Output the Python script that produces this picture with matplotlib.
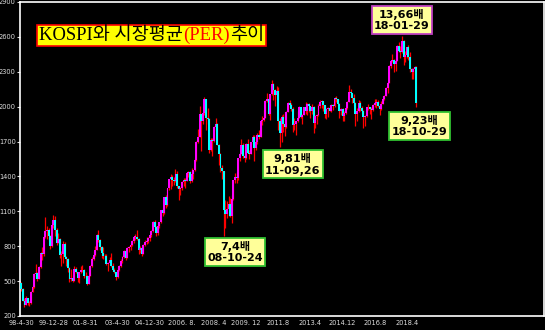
import numpy as np
import matplotlib
matplotlib.use("Agg")
import matplotlib.pyplot as plt
from matplotlib.offsetbox import TextArea, HPacker, AnnotationBbox

# monthly KOSPI candles, 1998-04 .. 2018-10
opens = [
    481, 432, 333, 298, 353, 311, 310, 408, 450,
    562, 573, 521, 618, 745, 735, 883, 932, 943, 888, 800, 980,
    1028, 943, 829, 861, 725, 731, 822, 705, 689, 613, 514, 526,
    504, 601, 577, 523, 577, 595, 595, 541, 545, 479, 541, 631,
    693, 725, 771, 894, 852, 796, 743, 716, 719, 646, 655, 681,
    627, 592, 576, 536, 599, 633, 670, 711, 759, 697, 784, 796,
    811, 848, 880, 883, 862, 770, 785, 735, 810, 835, 845, 870,
    896, 932, 1011, 965, 911, 970, 1008, 1112, 1083, 1221, 1158, 1297,
    1379, 1399, 1371, 1359, 1419, 1317, 1295, 1297, 1352, 1371, 1364, 1432,
    1434, 1360, 1417, 1452, 1542, 1700, 1743, 1933, 1873, 1946, 2064, 1906,
    1897, 1624, 1711, 1704, 1825, 1852, 1674, 1594, 1474, 1448, 1113, 1076,
    1124, 1162, 1063, 1206, 1369, 1395, 1390, 1557, 1591, 1673, 1580, 1555,
    1682, 1602, 1594, 1692, 1741, 1641, 1698, 1759, 1742, 1873, 1882, 1904,
    2051, 2069, 1939, 2106, 2192, 2142, 2100, 2133, 1880, 1770, 1909, 1847,
    1826, 1955, 2030, 2014, 1982, 1843, 1854, 1881, 1905, 1996, 1912, 1932,
    1997, 1961, 2027, 2005, 1963, 2001, 1863, 1920, 1926, 2005, 2039, 2045,
    2011, 1941, 1980, 1986, 1962, 2017, 2002, 2076, 2068, 2020, 1964, 1981,
    1916, 1949, 1986, 2041, 2127, 2115, 2074, 2030, 1941, 1963, 2029, 1991,
    1961, 1912, 1916, 1996, 1994, 1983, 1970, 2016, 2034, 2043, 2008, 1983,
    2026, 2067, 2091, 2160, 2205, 2347, 2392, 2402, 2363, 2394, 2523, 2476,
    2467, 2566, 2427, 2445, 2515, 2423, 2326, 2295, 2322, 2343,
]
highs = [
    490, 440, 355, 375, 357, 326, 411, 470, 570,
    650, 580, 626, 750, 790, 885, 1052, 975, 960, 895, 985, 1066,
    1059, 960, 915, 870, 760, 845, 840, 715, 695, 620, 600, 555,
    630, 624, 580, 580, 632, 635, 605, 580, 555, 555, 640, 705,
    760, 800, 902, 943, 860, 805, 790, 735, 730, 665, 710, 740,
    655, 610, 580, 620, 640, 690, 720, 765, 780, 790, 800, 825,
    855, 890, 905, 939, 870, 800, 790, 820, 850, 880, 880, 900,
    940, 1015, 1022, 975, 975, 1012, 1113, 1130, 1225, 1240, 1300, 1380,
    1422, 1410, 1395, 1465, 1445, 1320, 1310, 1360, 1385, 1390, 1440, 1450,
    1445, 1470, 1455, 1555, 1705, 1810, 2004, 1940, 1950, 2085, 2070, 1990,
    1900, 1730, 1730, 1830, 1900, 1860, 1680, 1605, 1500, 1450, 1200, 1190,
    1230, 1215, 1240, 1370, 1430, 1440, 1560, 1600, 1723, 1690, 1600, 1690,
    1723, 1630, 1700, 1760, 1760, 1720, 1770, 1800, 1880, 1920, 1970, 2055,
    2115, 2085, 2110, 2231, 2200, 2150, 2180, 2165, 1900, 1925, 1940, 1950,
    1960, 2040, 2057, 2030, 1995, 1900, 1880, 1960, 2010, 2000, 1940, 2000,
    2040, 2030, 2030, 2010, 2020, 2010, 1925, 1940, 2020, 2060, 2060, 2050,
    2015, 1985, 1995, 2015, 2020, 2025, 2085, 2090, 2070, 2030, 1990, 1990,
    1960, 1990, 2050, 2190, 2150, 2120, 2110, 2040, 1990, 2060, 2050, 2010,
    1970, 1930, 2000, 2025, 2000, 2000, 2025, 2070, 2070, 2060, 2010, 2050,
    2090, 2100, 2170, 2215, 2360, 2400, 2450, 2410, 2420, 2530, 2560, 2520,
    2607, 2570, 2480, 2500, 2530, 2470, 2330, 2330, 2350, 2350,
]
lows = [
    417, 327, 280, 296, 294, 290, 307, 403, 440,
    535, 497, 515, 615, 680, 720, 870, 860, 845, 780, 795, 960,
    885, 810, 825, 700, 630, 655, 700, 630, 580, 496, 500, 495,
    500, 570, 491, 485, 570, 575, 530, 535, 463, 475, 540, 620,
    680, 715, 765, 840, 770, 700, 690, 680, 640, 585, 650, 620,
    590, 570, 512, 530, 590, 625, 655, 700, 680, 695, 750, 765,
    800, 830, 855, 850, 730, 740, 719, 730, 800, 820, 825, 845,
    880, 925, 960, 890, 900, 960, 1000, 1060, 1080, 1130, 1150, 1280,
    1290, 1320, 1330, 1355, 1300, 1200, 1240, 1280, 1320, 1300, 1360, 1395,
    1345, 1355, 1380, 1445, 1535, 1690, 1740, 1620, 1850, 1930, 1800, 1850,
    1600, 1620, 1575, 1700, 1790, 1670, 1500, 1440, 1380, 892, 960, 1040,
    1060, 1055, 1000, 1200, 1340, 1340, 1370, 1530, 1590, 1560, 1520, 1550,
    1600, 1550, 1590, 1680, 1530, 1630, 1680, 1720, 1740, 1840, 1880, 1900,
    2040, 1930, 1882, 2100, 2060, 2010, 2090, 1800, 1652, 1700, 1780, 1750,
    1820, 1950, 1990, 1960, 1780, 1800, 1760, 1870, 1900, 1900, 1850, 1925,
    1940, 1930, 1950, 1900, 1940, 1770, 1820, 1850, 1920, 1990, 1990, 1960,
    1900, 1890, 1910, 1960, 1950, 1970, 1995, 2040, 2010, 1900, 1930, 1880,
    1880, 1940, 1980, 2040, 2080, 2030, 2010, 1830, 1880, 1950, 1960, 1940,
    1820, 1830, 1910, 1970, 1940, 1890, 1960, 2000, 1990, 2000, 1930, 1970,
    2020, 2060, 2090, 2120, 2200, 2330, 2380, 2300, 2310, 2390, 2470, 2420,
    2460, 2360, 2380, 2420, 2400, 2300, 2240, 2240, 2270, 1996,
]
closes = [
    432, 333, 298, 353, 311, 310, 408, 450, 562,
    573, 521, 618, 745, 735, 883, 932, 943, 888, 800, 980, 1028,
    943, 829, 861, 725, 731, 822, 705, 689, 613, 514, 526, 504,
    601, 577, 523, 577, 595, 595, 541, 545, 479, 541, 631, 693,
    725, 771, 894, 852, 796, 743, 716, 719, 646, 655, 681, 627,
    592, 576, 536, 599, 633, 670, 711, 759, 697, 784, 796, 811,
    848, 880, 883, 862, 770, 785, 735, 810, 835, 845, 870, 896,
    932, 1011, 965, 911, 970, 1008, 1112, 1083, 1221, 1158, 1297, 1379,
    1399, 1371, 1359, 1419, 1317, 1295, 1297, 1352, 1371, 1364, 1432, 1434,
    1360, 1417, 1452, 1542, 1700, 1743, 1933, 1873, 1946, 2064, 1906, 1897,
    1624, 1711, 1704, 1825, 1852, 1674, 1594, 1474, 1448, 1113, 1076, 1124,
    1162, 1063, 1206, 1369, 1395, 1390, 1557, 1591, 1673, 1580, 1555, 1682,
    1602, 1594, 1692, 1741, 1641, 1698, 1759, 1742, 1873, 1882, 1904, 2051,
    2069, 1939, 2106, 2192, 2142, 2100, 2133, 1880, 1770, 1909, 1847, 1826,
    1955, 2030, 2014, 1982, 1843, 1854, 1881, 1905, 1996, 1912, 1932, 1997,
    1961, 2027, 2005, 1963, 2001, 1863, 1920, 1926, 2005, 2039, 2045, 2011,
    1941, 1980, 1986, 1962, 2017, 2002, 2076, 2068, 2020, 1964, 1981, 1916,
    1949, 1986, 2041, 2127, 2115, 2074, 2030, 1941, 1963, 2029, 1991, 1961,
    1912, 1916, 1996, 1994, 1983, 1970, 2016, 2034, 2043, 2008, 1983, 2026,
    2067, 2091, 2160, 2205, 2347, 2392, 2402, 2363, 2394, 2523, 2476, 2467,
    2566, 2427, 2445, 2515, 2423, 2326, 2295, 2322, 2343, 2029,
]

xtick_pos = [0, 20, 40, 60, 80, 100, 120, 140, 160, 180, 200, 220, 240]
xtick_labels = ["98-4-30", "99-12-28", "01-8-31", "03-4-30", "04-12-30",
                "2006. 8.", "2008. 4", "2009. 12", "2011.8", "2013.4",
                "2014.12", "2016.8", "2018.4"]
yticks = [200, 500, 800, 1100, 1400, 1700, 2000, 2300, 2600, 2900]

# PER call-outs: month index, text
notes_idx = [237, 248, 169, 133]
notes_val = [2745, 1835, 1505, 750]
notes_txt = ["13,66배\n18-01-29", "9,23배\n18-10-29", "9,81배\n11-09,26", "7,4배\n08-10-24"]
notes_edge = ["#C040C0", "#30C030", "#30C030", "#30C030"]

o = np.array(opens)
h = np.array(highs)
l = np.array(lows)
c = np.array(closes)
x = np.arange(len(c))

fig = plt.figure(figsize=(5.45, 3.30), dpi=100, facecolor="black")
ax = fig.add_axes([20 / 545, 14 / 330, 524 / 545, 314 / 330], facecolor="black")

ax.vlines(x, l, h, color="#FF0000", lw=0.9, zorder=2)
up = c >= o
body_col = np.where(up, "#FF00FF", "#00FFFF")
ax.bar(x, np.maximum(np.abs(c - o), 4), bottom=np.minimum(o, c), width=1.2,
       color=body_col, linewidth=0, zorder=3)

ax.set_xlim(-0.8, 325.4)
ax.set_ylim(200, 2900)
ax.set_yticks(yticks)
ax.set_xticks(xtick_pos)
ax.set_xticklabels(xtick_labels)
ax.tick_params(axis="y", colors="#DDDDDD", labelsize=4.8, length=2, pad=1)
ax.tick_params(axis="x", colors="#DDDDDD", labelsize=4.8, length=0, pad=3)
for s in ax.spines.values():
    s.set_color("white")
    s.set_linewidth(1.2)

for xi, yv, t, ec in zip(notes_idx, notes_val, notes_txt, notes_edge):
    ax.text(xi, yv, t, ha="center", va="center", fontsize=8, fontweight="bold",
            family=["DejaVu Sans", "Noto Sans CJK KR"], color="black",
            linespacing=1.2, zorder=5,
            bbox=dict(boxstyle="square,pad=0.22", fc="#FFFF99", ec=ec, lw=1.3))

# title box with the red (PER)
tfont = ["Liberation Serif", "Noto Sans CJK KR"]
tsize = 13.4
parts = [TextArea("KOSPI와 시장평균", textprops=dict(color="black", fontsize=tsize, family=tfont)),
         TextArea("(PER)", textprops=dict(color="red", fontsize=tsize, family=tfont)),
         TextArea("추이", textprops=dict(color="black", fontsize=tsize, family=tfont))]
pack = HPacker(children=parts, align="baseline", pad=0, sep=0)
ab = AnnotationBbox(pack, (39 / 545, 1 - 27 / 330), xycoords="figure fraction",
                    box_alignment=(0, 1), pad=0.15, frameon=True,
                    bboxprops=dict(fc="#FFFF00", ec="red", lw=1.2))
ax.add_artist(ab)

fig.savefig("out.png", dpi=100, facecolor="black")
